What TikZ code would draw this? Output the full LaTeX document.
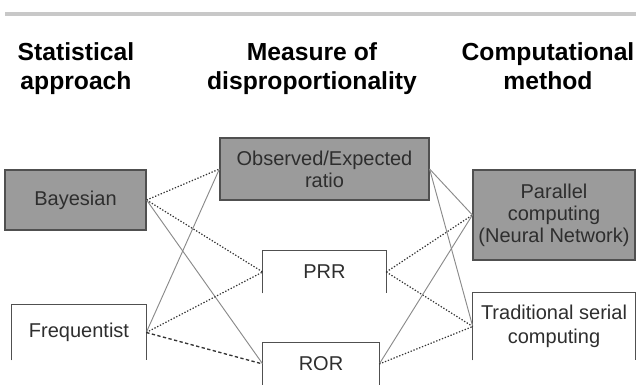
\documentclass[tikz,border=0pt]{standalone}
\usepackage{fontspec}
\setmainfont{Liberation Sans}
\definecolor{boxfill}{HTML}{9B9B9B}
\definecolor{boxedge}{HTML}{505050}
\definecolor{boxtext}{HTML}{2E2E2E}
\definecolor{topline}{HTML}{C8C8C8}
\definecolor{solidline}{HTML}{8A8A8A}
\definecolor{dotline}{HTML}{333333}
\begin{document}
\begin{tikzpicture}[x=0.75pt,y=-0.75pt]

    \tikzset{
      header/.style={
        anchor=north,
        align=center,
        inner sep=0pt,
        font=\fontsize{18.5}{22}\selectfont\bfseries,
      },
      shaded/.style={
        draw=boxedge,
        fill=boxfill,
        line width=0.9pt,
        text=boxtext,
        align=center,
        inner sep=0pt,
        font=\fontsize{15}{16.5}\selectfont,
      },
      open/.style={
        text=boxtext,
        align=center,
        inner sep=0pt,
        font=\fontsize{15}{18}\selectfont,
      },
      sides/.style={color={boxedge}, line width=0.9pt},
      dots/.style={color={dotline}, line width=0.9pt, dash pattern=on 1pt off 1.3pt},
      dashes/.style={color={dotline}, line width=1pt, dash pattern=on 2.5pt off 1.8pt},
      plainline/.style={color={solidline}, line width=0.7pt},
    }
    \useasboundingbox (0,0) rectangle (636,385);
    \draw[color={topline}, line width=2.6pt] (5,14) -- (636,14);

    \node[header] (stat) at (76,42) {Statistical\\approach};
    \node[header] (meas) at (312,42) {Measure of\\disproportionality};
    \node[header] (comp) at (548,42) {Computational\\method};

    \node[shaded, minimum width=105.75pt, minimum height=45pt] (bayes) at (75.5,200) {Bayesian};
    \node[open, minimum width=100.5pt, minimum height=41.25pt] (freq) at (79,332.5) {Frequentist};
    \node[shaded, minimum width=156.75pt, minimum height=46.5pt] (obs) at (324.5,169) {Observed/Expected\\ratio};
    \node[open, minimum width=92.25pt, minimum height=31.5pt] (prr) at (324.5,272) {PRR};
    \node[open, minimum width=87pt, minimum height=32.25pt] (ror) at (321,364) {ROR};
    \node[shaded, minimum width=121.5pt, minimum height=67.5pt] (par) at (554,215) {Parallel\\computing\\(Neural Network)};
    \node[open, minimum width=121.5pt, minimum height=50.25pt] (serial) at (554,326.5) {Traditional serial\\computing};

    \foreach \n in {freq,prr,ror,serial}
      \draw[sides] (\n.south west) |- (\n.north east) -- (\n.south east);

    \draw[dots] (bayes.east) -- (obs.west);
    \draw[dots] (bayes.east) -- (prr.west);
    \draw[plainline] (bayes.east) -- (ror.west);
    \draw[plainline] (freq.east) -- (obs.west);
    \draw[dots] (freq.east) -- (prr.west);
    \draw[dashes] (freq.east) -- (ror.west);

    \draw[plainline] (obs.east) -- (par.west);
    \draw[plainline] (obs.east) -- (serial.west);
    \draw[dots] (prr.east) -- (par.west);
    \draw[dots] (prr.east) -- (serial.west);
    \draw[plainline] (ror.east) -- (par.west);
    \draw[dots] (ror.east) -- (serial.west);

\end{tikzpicture}
\end{document}
